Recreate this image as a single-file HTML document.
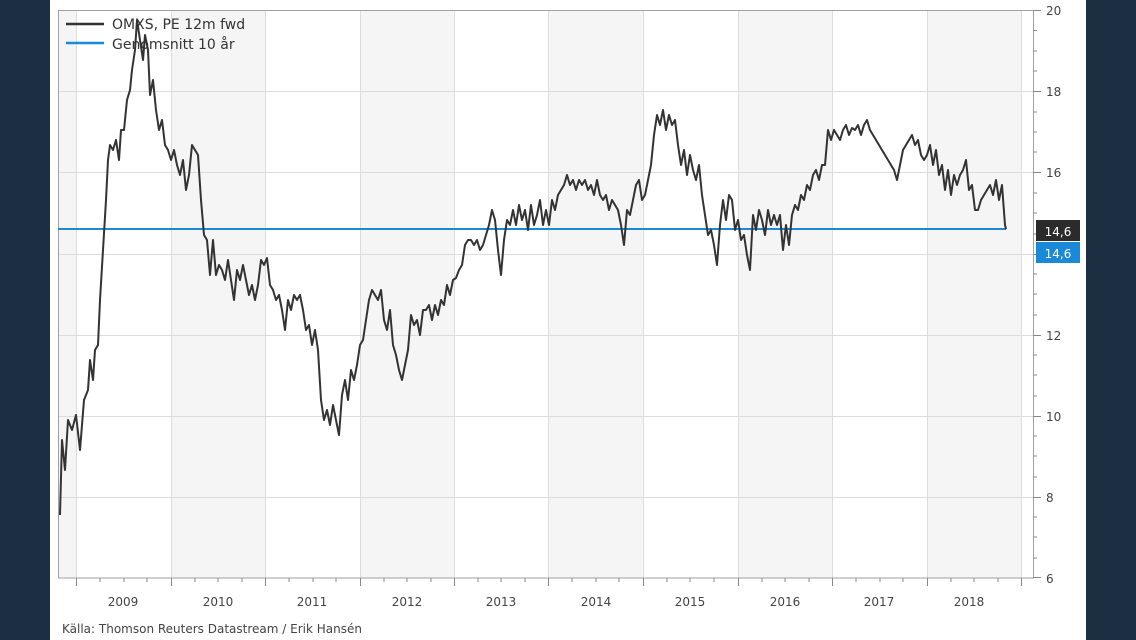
<!DOCTYPE html>
<html><head><meta charset="utf-8"><style>
html,body{margin:0;padding:0;background:#1b2e42;}
svg{display:block;font-family:"DejaVu Sans","Liberation Sans",sans-serif;}
</style></head><body>
<svg width="1136" height="640" viewBox="0 0 1136 640">
<rect x="0" y="0" width="1136" height="640" fill="#1b2e42"/>
<rect x="50" y="0" width="1036" height="640" fill="#ffffff"/>
<g fill="#f5f5f5">
<rect x="58" y="10" width="18" height="568"/>
<rect x="171" y="10" width="94" height="568"/>
<rect x="360" y="10" width="94" height="568"/>
<rect x="548" y="10" width="95" height="568"/>
<rect x="738" y="10" width="94" height="568"/>
<rect x="927" y="10" width="94" height="568"/>
</g>
<g stroke="#dcdcdc" stroke-width="1">
<line x1="58" y1="91.5" x2="1033" y2="91.5"/><line x1="58" y1="172.5" x2="1033" y2="172.5"/>
<line x1="58" y1="254.5" x2="1033" y2="254.5"/><line x1="58" y1="335.5" x2="1033" y2="335.5"/>
<line x1="58" y1="416.5" x2="1033" y2="416.5"/><line x1="58" y1="497.5" x2="1033" y2="497.5"/>
<line x1="76.5" y1="10" x2="76.5" y2="578"/><line x1="171.5" y1="10" x2="171.5" y2="578"/>
<line x1="265.5" y1="10" x2="265.5" y2="578"/><line x1="360.5" y1="10" x2="360.5" y2="578"/>
<line x1="454.5" y1="10" x2="454.5" y2="578"/><line x1="548.5" y1="10" x2="548.5" y2="578"/>
<line x1="643.5" y1="10" x2="643.5" y2="578"/><line x1="738.5" y1="10" x2="738.5" y2="578"/>
<line x1="832.5" y1="10" x2="832.5" y2="578"/><line x1="927.5" y1="10" x2="927.5" y2="578"/>
<line x1="1021.5" y1="10" x2="1021.5" y2="578"/>
</g>
<rect x="58.5" y="10.5" width="975" height="567.5" fill="none" stroke="#a0a0a0"/>
<g stroke="#888">
<line x1="1033" y1="10.5" x2="1041" y2="10.5"/><line x1="1033" y1="91.5" x2="1041" y2="91.5"/><line x1="1033" y1="172.5" x2="1041" y2="172.5"/><line x1="1033" y1="254.5" x2="1041" y2="254.5"/><line x1="1033" y1="335.5" x2="1041" y2="335.5"/><line x1="1033" y1="416.5" x2="1041" y2="416.5"/><line x1="1033" y1="497.5" x2="1041" y2="497.5"/><line x1="1033" y1="577.5" x2="1041" y2="577.5"/>
<line x1="1033" y1="30.5" x2="1037" y2="30.5"/><line x1="1033" y1="51" x2="1037" y2="51"/><line x1="1033" y1="71" x2="1037" y2="71"/>
<line x1="1033" y1="112" x2="1037" y2="112"/><line x1="1033" y1="132" x2="1037" y2="132"/><line x1="1033" y1="152" x2="1037" y2="152"/>
<line x1="1033" y1="193" x2="1037" y2="193"/><line x1="1033" y1="213" x2="1037" y2="213"/><line x1="1033" y1="234" x2="1037" y2="234"/>
<line x1="1033" y1="274" x2="1037" y2="274"/><line x1="1033" y1="294" x2="1037" y2="294"/><line x1="1033" y1="315" x2="1037" y2="315"/>
<line x1="1033" y1="355" x2="1037" y2="355"/><line x1="1033" y1="375" x2="1037" y2="375"/><line x1="1033" y1="396" x2="1037" y2="396"/>
<line x1="1033" y1="436" x2="1037" y2="436"/><line x1="1033" y1="456" x2="1037" y2="456"/><line x1="1033" y1="477" x2="1037" y2="477"/>
<line x1="1033" y1="517" x2="1037" y2="517"/><line x1="1033" y1="537" x2="1037" y2="537"/><line x1="1033" y1="558" x2="1037" y2="558"/>
</g>
<g font-size="12" fill="#444">
<text x="1046" y="15">20</text><text x="1046" y="96">18</text><text x="1046" y="177">16</text><text x="1046" y="340">12</text><text x="1046" y="421">10</text><text x="1046" y="502">8</text><text x="1046" y="583">6</text>
</g>
<g stroke="#888">
<line x1="76.5" y1="578" x2="76.5" y2="586"/><line x1="171.5" y1="578" x2="171.5" y2="586"/><line x1="265.5" y1="578" x2="265.5" y2="586"/><line x1="360.5" y1="578" x2="360.5" y2="586"/><line x1="454.5" y1="578" x2="454.5" y2="586"/><line x1="548.5" y1="578" x2="548.5" y2="586"/><line x1="643.5" y1="578" x2="643.5" y2="586"/><line x1="738.5" y1="578" x2="738.5" y2="586"/><line x1="832.5" y1="578" x2="832.5" y2="586"/><line x1="927.5" y1="578" x2="927.5" y2="586"/><line x1="1021.5" y1="578" x2="1021.5" y2="586"/>
<line x1="100" y1="578" x2="100" y2="582"/><line x1="124" y1="578" x2="124" y2="582"/><line x1="147" y1="578" x2="147" y2="582"/>
<line x1="195" y1="578" x2="195" y2="582"/><line x1="218" y1="578" x2="218" y2="582"/><line x1="242" y1="578" x2="242" y2="582"/>
<line x1="289" y1="578" x2="289" y2="582"/><line x1="313" y1="578" x2="313" y2="582"/><line x1="336" y1="578" x2="336" y2="582"/>
<line x1="384" y1="578" x2="384" y2="582"/><line x1="407" y1="578" x2="407" y2="582"/><line x1="431" y1="578" x2="431" y2="582"/>
<line x1="478" y1="578" x2="478" y2="582"/><line x1="501" y1="578" x2="501" y2="582"/><line x1="525" y1="578" x2="525" y2="582"/>
<line x1="572" y1="578" x2="572" y2="582"/><line x1="596" y1="578" x2="596" y2="582"/><line x1="619" y1="578" x2="619" y2="582"/>
<line x1="667" y1="578" x2="667" y2="582"/><line x1="690" y1="578" x2="690" y2="582"/><line x1="714" y1="578" x2="714" y2="582"/>
<line x1="762" y1="578" x2="762" y2="582"/><line x1="785" y1="578" x2="785" y2="582"/><line x1="809" y1="578" x2="809" y2="582"/>
<line x1="856" y1="578" x2="856" y2="582"/><line x1="880" y1="578" x2="880" y2="582"/><line x1="903" y1="578" x2="903" y2="582"/>
<line x1="951" y1="578" x2="951" y2="582"/><line x1="974" y1="578" x2="974" y2="582"/><line x1="998" y1="578" x2="998" y2="582"/>
</g>
<g font-size="12" fill="#444" text-anchor="middle">
<text x="123" y="606">2009</text><text x="218" y="606">2010</text><text x="312" y="606">2011</text><text x="407" y="606">2012</text><text x="501" y="606">2013</text><text x="596" y="606">2014</text><text x="690" y="606">2015</text><text x="785" y="606">2016</text><text x="879" y="606">2017</text><text x="969" y="606">2018</text>
</g>
<text x="62" y="633" font-size="12" fill="#444">Källa: Thomson Reuters Datastream / Erik Hansén</text>
<line x1="58" y1="229" x2="1006" y2="229" stroke="#1a8ad8" stroke-width="2"/>
<polyline fill="none" stroke="#333" stroke-width="2" stroke-linejoin="round" points="60,515 62,440 65,470 68,420 72,430 76,415 80,450 84,400 88,390 90,360 93,380 95,350 98,345 100,300 103,250 106,200 108,160 110,145 113,150 116,140 119,160 121,130 124,130 127,100 130,90 132,70 135,50 137,20 140,40 143,60 145,35 148,50 150,95 153,80 156,110 159,130 162,120 165,145 168,150 171,160 174,150 177,165 180,175 183,160 186,190 189,175 192,145 195,150 198,155 201,200 204,235 207,240 210,275 213,240 216,275 219,265 222,270 225,280 228,260 231,280 234,300 237,270 240,280 243,265 246,280 249,295 252,285 255,300 258,285 261,260 264,265 267,258 270,285 273,290 276,300 279,295 282,310 285,330 288,300 291,310 294,295 297,300 300,295 303,310 306,330 309,325 312,345 315,330 318,350 321,400 324,420 327,410 330,425 333,405 336,420 339,435 342,395 345,380 348,400 351,370 354,380 357,365 360,345 363,340 366,320 369,300 372,290 375,295 378,300 381,290 384,320 387,330 390,310 393,345 396,355 399,370 402,380 405,365 408,350 411,315 414,325 417,320 420,335 423,310 426,310 429,305 432,320 435,305 438,315 441,300 444,305 447,285 450,295 453,280 456,278 459,270 462,265 465,245 468,240 471,240 474,245 477,240 480,250 483,245 486,235 489,225 492,210 495,220 498,250 501,275 504,240 507,220 510,225 513,210 516,225 519,205 522,220 525,210 528,230 531,205 534,225 537,215 540,200 543,225 546,210 549,225 552,200 555,210 558,195 561,190 564,185 567,175 570,185 573,180 576,190 579,180 582,185 585,180 588,190 591,185 594,195 597,180 600,195 603,200 606,195 609,210 612,200 615,205 618,210 621,225 624,245 627,210 630,215 633,200 636,185 639,180 642,200 645,195 648,180 651,165 654,135 657,115 660,125 663,110 666,130 669,115 672,125 675,120 678,145 681,165 684,150 687,175 690,155 693,170 696,180 699,165 702,195 705,215 708,235 711,230 714,245 717,265 720,225 723,200 726,220 729,195 732,200 735,230 738,220 741,240 744,235 747,255 750,270 753,215 756,230 759,210 762,220 765,235 768,210 771,225 774,215 777,225 780,215 783,250 786,225 789,245 792,215 795,205 798,210 801,195 804,200 807,185 810,190 813,175 816,170 819,180 822,165 825,165 828,130 831,140 834,130 837,135 840,140 843,130 846,125 849,135 852,128 855,130 858,125 861,135 864,125 867,120 870,130 873,135 876,140 879,145 882,150 885,155 888,160 891,165 894,170 897,180 900,165 903,150 906,145 909,140 912,135 915,145 918,140 921,155 924,160 927,155 930,145 933,165 936,150 939,175 942,165 945,190 948,170 951,195 954,175 957,185 960,175 963,170 966,160 969,190 972,185 975,210 978,210 981,200 984,195 987,190 990,185 993,195 996,180 999,200 1002,185 1005,225 1006,229"/>
<line x1="66" y1="24" x2="104" y2="24" stroke="#333" stroke-width="2.5"/>
<line x1="66" y1="43" x2="104" y2="43" stroke="#1a8ad8" stroke-width="2.5"/>
<text x="112" y="29" font-size="14" fill="#333">OMXS, PE 12m fwd</text>
<text x="112" y="49" font-size="14" fill="#333">Genomsnitt 10 år</text>
<rect x="1036" y="220" width="44" height="21" fill="#2b2b2b"/>
<text x="1058" y="236" font-size="12" fill="#fff" text-anchor="middle">14,6</text>
<rect x="1036" y="242" width="44" height="21" fill="#1a8ad8"/>
<text x="1058" y="258" font-size="12" fill="#fff" text-anchor="middle">14,6</text>
</svg>
</body></html>
